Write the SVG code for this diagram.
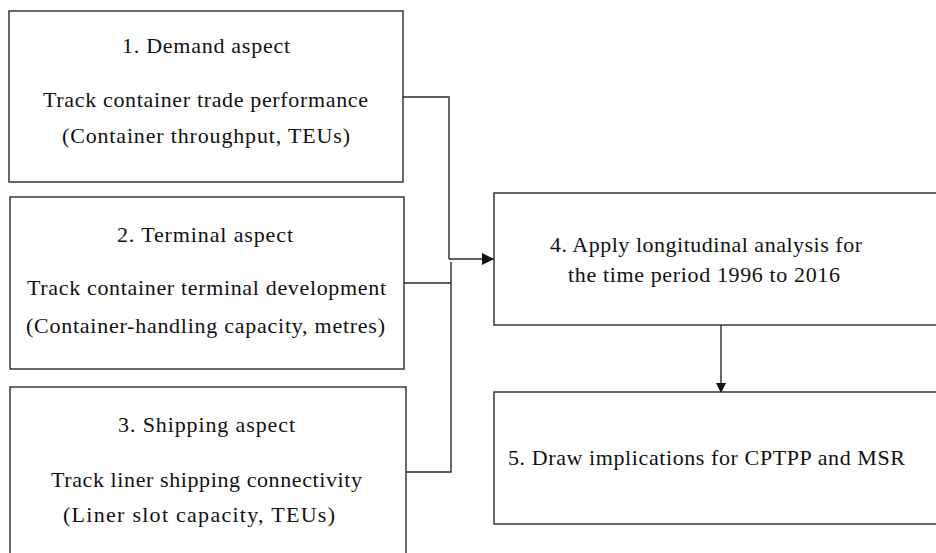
<svg xmlns="http://www.w3.org/2000/svg" width="936" height="553" viewBox="0 0 936 553">
<defs>
<style>
.box{fill:#fff;stroke:#2a2a2a;stroke-width:1.4}
text{font-family:"Liberation Serif","Times New Roman","DejaVu Serif",serif;font-size:22px;fill:#111}
.c{fill:none;stroke:#2a2a2a;stroke-width:1.4}
</style>
<marker id="ah" markerWidth="10" markerHeight="10" refX="9" refY="5" orient="auto" markerUnits="userSpaceOnUse"><path d="M0,0 L10,5 L0,10 z" fill="#111"/></marker>
<marker id="ahs" markerWidth="12" markerHeight="12" refX="12" refY="6" orient="auto" markerUnits="userSpaceOnUse"><path d="M0,0 L12,6 L0,12 z" fill="#111"/></marker>
</defs>
<rect width="936" height="553" fill="#fff"/>
<g id="connectors">
<path class="c" d="M403,97 H449 V259"/>
<path class="c" d="M404,283 H451"/>
<path class="c" d="M406,472 H451 V262"/>
<path class="c" d="M449,259 H494" marker-end="url(#ahs)"/>
<path class="c" d="M721,325 V392" marker-end="url(#ah)"/>
</g>
<g id="node1">
<rect class="box" x="9" y="11" width="394" height="171"/>
<text x="122" y="53" textLength="168" lengthAdjust="spacing">1. Demand  aspect</text>
<text x="43" y="107" textLength="325" lengthAdjust="spacing">Track  container  trade performance</text>
<text x="62" y="143" textLength="288" lengthAdjust="spacing">(Container  throughput,  TEUs)</text>
</g>
<g id="node2">
<rect class="box" x="10" y="197" width="394" height="172"/>
<text x="117" y="242" textLength="176" lengthAdjust="spacing">2. Terminal  aspect</text>
<text x="27" y="295" textLength="359" lengthAdjust="spacing">Track container  terminal  development</text>
<text x="26" y="333" textLength="359" lengthAdjust="spacing">(Container-handling  capacity, metres)</text>
</g>
<g id="node3">
<rect class="box" x="10" y="387" width="396" height="180"/>
<text x="118" y="432" textLength="177" lengthAdjust="spacing">3. Shipping  aspect</text>
<text x="51" y="487" textLength="311" lengthAdjust="spacing">Track liner  shipping  connectivity</text>
<text x="63" y="522" textLength="272" lengthAdjust="spacing">(Liner  slot capacity,  TEUs)</text>
</g>
<g id="node4">
<rect class="box" x="494" y="193" width="450" height="132"/>
<text x="550" y="252" textLength="312" lengthAdjust="spacing">4. Apply  longitudinal  analysis  for</text>
<text x="568" y="282" textLength="272" lengthAdjust="spacing">the  time  period  1996 to 2016</text>
</g>
<g id="node5">
<rect class="box" x="494" y="392" width="450" height="132"/>
<text x="508" y="465" textLength="397" lengthAdjust="spacing">5. Draw implications  for  CPTPP and MSR</text>
</g>
</svg>
